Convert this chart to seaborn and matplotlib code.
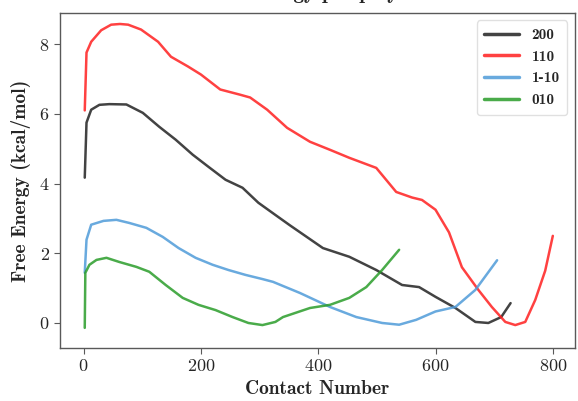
import matplotlib
matplotlib.use("Agg")
import matplotlib.pyplot as plt
import seaborn as sns
import pandas as pd

# Free-energy profiles vs. contact number for each crystal surface
x_200 = [2, 5, 13, 27, 44, 73, 101, 129, 157, 186, 213, 242, 271, 298, 327, 352,
         408, 453, 499, 543, 572, 600, 634, 668, 690, 712, 728]
y_200 = [4.17, 5.75, 6.12, 6.26, 6.28, 6.27, 6.03, 5.63, 5.26, 4.83, 4.48, 4.11, 3.88, 3.45, 3.1, 2.8,
         2.15, 1.9, 1.52, 1.09, 1.03, 0.75, 0.43, 0.03, 0.0, 0.17, 0.57]

x_110 = [2, 5, 13, 30, 47, 62, 76, 98, 127, 149, 178, 200, 233, 267, 284, 313, 347,
         386, 420, 453, 499, 533, 560, 577, 600, 623, 645, 673, 696, 719, 736, 753,
         770, 787, 800]
y_110 = [6.1, 7.76, 8.07, 8.4, 8.56, 8.58, 8.56, 8.42, 8.07, 7.64, 7.36, 7.13, 6.7, 6.55, 6.47, 6.12, 5.6,
         5.2, 4.97, 4.74, 4.45, 3.76, 3.6, 3.53, 3.25, 2.6, 1.6, 0.95, 0.46, 0.03, -0.06, 0.03,
         0.66, 1.5, 2.5]

x_1m10 = [2, 5, 13, 34, 56, 78, 107, 135, 162, 191, 220, 247, 276, 305, 323, 369,
          420, 465, 509, 538, 567, 600, 634, 668, 705]
y_1m10 = [1.44, 2.39, 2.82, 2.93, 2.96, 2.87, 2.73, 2.47, 2.15, 1.87, 1.67, 1.52, 1.38, 1.26, 1.18, 0.86,
          0.46, 0.17, 0.0, -0.05, 0.09, 0.33, 0.46, 0.95, 1.8]

x_010 = [2, 3, 10, 22, 39, 61, 90, 112, 140, 169, 196, 225, 254, 281, 305, 327,
         340, 386, 420, 453, 482, 509, 538]
y_010 = [-0.14, 1.44, 1.67, 1.81, 1.87, 1.75, 1.61, 1.47, 1.09, 0.72, 0.52, 0.37, 0.17, 0.0, -0.06, 0.03,
         0.17, 0.43, 0.52, 0.72, 1.03, 1.52, 2.1]

surfaces = ["200", "110", "1-10", "010"]
colors = ["#222222", "#ff2020", "#4f9bd9", "#2a9d2a"]

frames = []
for name, xs, ys in zip(surfaces,
                        [x_200, x_110, x_1m10, x_010],
                        [y_200, y_110, y_1m10, y_010]):
    frames.append(pd.DataFrame({"contact": xs, "energy": ys, "surface": name}))
df = pd.concat(frames, ignore_index=True)

sns.set_style("ticks")
plt.rcParams["font.family"] = ["cmr10", "DejaVu Serif"]
plt.rcParams["axes.formatter.use_mathtext"] = True
plt.rcParams["axes.unicode_minus"] = False

fig = plt.figure(figsize=(5.78, 4.01), dpi=100)
ax = fig.add_axes([0.104, 0.132, 0.891, 0.836])

sns.lineplot(data=df, x="contact", y="energy", hue="surface", hue_order=surfaces,
             palette=dict(zip(surfaces, colors)), sort=False, estimator=None,
             linewidth=1.8, alpha=0.85, ax=ax)
for line in ax.get_lines():
    if line.get_label() == "200":
        line.set_linewidth(2.2)

bold = dict(family=["cmb10", "DejaVu Serif"], size=14)
ax.set_xlabel("Contact Number", fontdict=bold, labelpad=4)
ax.set_ylabel("Free Energy (kcal/mol)", fontdict=bold, labelpad=6)
# the title sits above the top edge of the canvas, only its descenders show
ax.set_title("Free Energy per polymer", fontdict=dict(family=["cmb10", "DejaVu Serif"], size=15), pad=10)

ax.set_xticks([0, 200, 400, 600, 800])
ax.set_yticks([0, 2, 4, 6, 8])
ax.tick_params(axis="both", labelsize=13, direction="out", length=4, color="0.35")
for lab in ax.get_xticklabels() + ax.get_yticklabels():
    lab.set_family(["cmr10", "DejaVu Serif"])
for sp in ax.spines.values():
    sp.set_color("0.35")
    sp.set_linewidth(1.0)

ax.set_xlim(-40, 838)
ax.set_ylim(-0.72, 8.9)

leg = ax.legend(loc="upper right", prop=dict(family=["cmb10", "DejaVu Serif"], size=11),
                frameon=True, fancybox=True, framealpha=0.8, handlelength=2.3,
                borderpad=0.5, labelspacing=0.5)
for h in leg.get_lines():
    h.set_linewidth(2.5)
leg.get_frame().set_edgecolor("0.85")

fig.savefig("out.png", dpi=100)
